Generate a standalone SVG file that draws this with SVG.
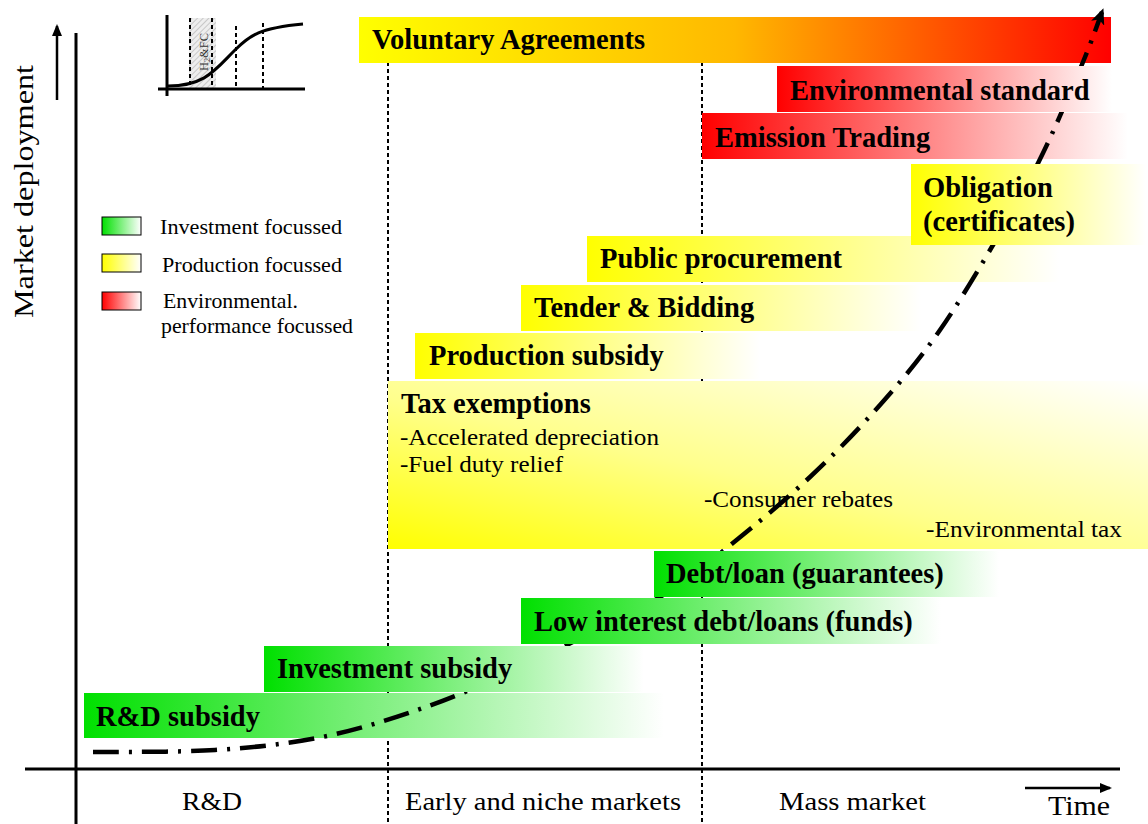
<svg xmlns="http://www.w3.org/2000/svg" width="1148" height="824" viewBox="0 0 1148 824">
<style>
.b{font-family:"Liberation Serif","Times New Roman",serif;font-weight:bold;font-size:28.5px;fill:#000}
.r{font-family:"Liberation Serif","Times New Roman",serif;font-size:24px;fill:#000}
.lg{font-family:"Liberation Serif","Times New Roman",serif;font-size:21px;fill:#000}
.ax{stroke:#000;stroke-width:3;fill:none}
.dot{stroke:#000;stroke-width:2;stroke-dasharray:4 3;fill:none}
.sw{stroke:#000;stroke-width:1}
</style>
<defs>
<linearGradient id="gG" x1="0" y1="0" x2="1" y2="0"><stop offset="0" stop-color="#00E000"/><stop offset="1" stop-color="#FFFFFF"/></linearGradient>
<linearGradient id="gY" x1="0" y1="0" x2="1" y2="0"><stop offset="0" stop-color="#FFFF00"/><stop offset="1" stop-color="#FFFFFF"/></linearGradient>
<linearGradient id="gR" x1="0" y1="0" x2="1" y2="0"><stop offset="0" stop-color="#FF0000"/><stop offset="1" stop-color="#FFFFFF"/></linearGradient>
<linearGradient id="gO" x1="0" y1="0" x2="1" y2="0"><stop offset="0" stop-color="#FFFF00"/><stop offset="0.5" stop-color="#FFB800"/><stop offset="1" stop-color="#FF0000"/></linearGradient>
<linearGradient id="gT" x1="0" y1="1" x2="1" y2="0"><stop offset="0" stop-color="#FFFF00"/><stop offset="0.45" stop-color="#FFFF8C"/><stop offset="1" stop-color="#FFFFFF"/></linearGradient>
<pattern id="hatch" width="4" height="4" patternUnits="userSpaceOnUse" patternTransform="rotate(45)"><rect width="4" height="4" fill="#eeeeee"/><line x1="0" y1="0" x2="0" y2="4" stroke="#bbbbbb" stroke-width="1.5"/></pattern>
<marker id="ah" markerWidth="12" markerHeight="10" refX="10" refY="5" orient="auto" markerUnits="userSpaceOnUse"><path d="M0,0 L12,5 L0,10 z" fill="#000"/></marker>
<marker id="ahc" markerWidth="16" markerHeight="14" refX="12" refY="7" orient="auto" markerUnits="userSpaceOnUse"><path d="M0,0 L16,7 L0,14 L4,7 z" fill="#000"/></marker>
</defs>
<rect width="1148" height="824" fill="#fff"/>

<g id="guides">
<line class="dot" x1="388" y1="62" x2="388" y2="824"/>
<line class="dot" x1="702" y1="62" x2="702" y2="824"/>
</g>

<g id="axes">
<line class="ax" x1="76" y1="33" x2="76" y2="824"/>
<line class="ax" x1="25" y1="769" x2="1120" y2="769"/>
<line x1="57" y1="100" x2="57" y2="26" stroke="#000" stroke-width="2.5" marker-end="url(#ah)"/>
<line x1="1025" y1="788" x2="1110" y2="788" stroke="#000" stroke-width="2.5" marker-end="url(#ah)"/>
<text class="r" style="font-size:28px" transform="translate(33,318) rotate(-90)" textLength="253" lengthAdjust="spacingAndGlyphs">Market deployment</text>
<text class="r" style="font-size:28px" x="1048" y="815" textLength="62" lengthAdjust="spacingAndGlyphs">Time</text>
<text class="r" style="font-size:25px" x="182" y="810" textLength="60" lengthAdjust="spacingAndGlyphs">R&amp;D</text>
<text class="r" style="font-size:25px" x="405" y="810" textLength="276" lengthAdjust="spacingAndGlyphs">Early and niche markets</text>
<text class="r" style="font-size:25px" x="779" y="810" textLength="147" lengthAdjust="spacingAndGlyphs">Mass market</text>
</g>

<g id="inset">
<rect x="189" y="18" width="27" height="71" fill="url(#hatch)"/>
<line class="ax" x1="167" y1="15" x2="167" y2="96"/>
<line class="ax" x1="158" y1="89" x2="305" y2="89"/>
<line class="dot" x1="190" y1="18" x2="190" y2="89"/>
<line class="dot" x1="212" y1="18" x2="212" y2="89"/>
<line class="dot" x1="236" y1="26" x2="236" y2="89"/>
<line class="dot" x1="263" y1="23" x2="263" y2="89"/>
<path d="M168,86 C205,86 215,70 235,50 C250,35 260,28 303,24" stroke="#000" stroke-width="3" fill="none"/>
<text transform="translate(208,71) rotate(-90)" font-family="Liberation Serif, serif" font-size="12" fill="#333" textLength="38" lengthAdjust="spacingAndGlyphs">H<tspan font-size="8" dy="2">2</tspan><tspan dy="-2">&amp;FC</tspan></text>
</g>

<g id="legend">
<rect class="sw" x="102" y="217" width="39" height="18" fill="url(#gG)"/>
<rect class="sw" x="102" y="254" width="39" height="18" fill="url(#gY)"/>
<rect class="sw" x="102" y="292" width="39" height="18" fill="url(#gR)"/>
<text class="lg" x="160" y="234" textLength="182" lengthAdjust="spacingAndGlyphs">Investment focussed</text>
<text class="lg" x="162" y="271.5" textLength="180" lengthAdjust="spacingAndGlyphs">Production focussed</text>
<text class="lg" x="163" y="308" textLength="135" lengthAdjust="spacingAndGlyphs">Environmental.</text>
<text class="lg" x="161" y="333" textLength="192" lengthAdjust="spacingAndGlyphs">performance focussed</text>
</g>

<g id="voluntary">
<rect x="359" y="17" width="752" height="46" fill="url(#gO)"/>
<text class="b" x="372" y="49">Voluntary Agreements</text>
</g>
<g id="emission">
<rect x="702" y="113" width="426" height="46" fill="url(#gR)"/>
<text class="b" x="715" y="147">Emission Trading</text>
</g>
<g id="procurement">
<rect x="587" y="236" width="472" height="46" fill="url(#gY)"/>
<text class="b" x="600" y="268">Public procurement</text>
</g>
<g id="tender">
<rect x="521" y="285" width="400" height="46" fill="url(#gY)"/>
<text class="b" x="534" y="317">Tender &amp; Bidding</text>
</g>
<g id="production">
<rect x="415" y="333" width="345" height="46" fill="url(#gY)"/>
<text class="b" x="429" y="365">Production subsidy</text>
</g>
<g id="tax">
<rect x="388" y="381" width="760" height="168" fill="url(#gT)"/>
<text class="b" x="401" y="413">Tax exemptions</text>
<text class="r" x="400" y="445" textLength="259" lengthAdjust="spacingAndGlyphs">-Accelerated depreciation</text>
<text class="r" x="400" y="472" textLength="163" lengthAdjust="spacingAndGlyphs">-Fuel duty relief</text>
<text class="r" x="704" y="506.5" textLength="189" lengthAdjust="spacingAndGlyphs">-Consumer rebates</text>
<text class="r" x="926" y="536.5" textLength="196" lengthAdjust="spacingAndGlyphs">-Environmental tax</text>
</g>
<g id="rdsubsidy">
<rect x="84" y="693" width="580" height="45" fill="url(#gG)"/>
<text class="b" x="96" y="726">R&amp;D subsidy</text>
</g>

<g id="connectors">
<path d="M93,752 C113.3,751.7 176.8,752.5 215,750 C253.2,747.5 287.3,744 322,737 C356.7,730 390,719.5 423,708 C456,696.5 490.5,681.3 520,668 C549.5,654.7 576.7,639.8 600,628 C623.3,616.2 638.7,610.5 660,597 C681.3,583.5 703,567 728,547 C753,527 784.7,500.7 810,477 C835.3,453.3 858.3,429.5 880,405 C901.7,380.5 920,358.7 940,330 C960,301.3 982.8,262.5 1000,233 C1017.2,203.5 1029.2,181.5 1043,153 C1056.8,124.5 1073.2,85.5 1083,62 C1092.8,38.5 1098.8,20.3 1102,12" fill="none" stroke="#000" stroke-width="4.5" stroke-dasharray="26 10 3 10" marker-end="url(#ahc)"/>
</g>

<g id="envstandard">
<rect x="777" y="66" width="335" height="46" fill="url(#gR)"/>
<text class="b" x="790" y="100">Environmental standard</text>
</g>
<g id="obligation">
<rect x="911" y="164" width="235" height="81" fill="url(#gY)"/>
<text class="b" x="923" y="197">Obligation</text>
<text class="b" x="923" y="231">(certificates)</text>
</g>
<g id="debt">
<rect x="654" y="551" width="345" height="46" fill="url(#gG)"/>
<text class="b" x="666" y="583">Debt/loan (guarantees)</text>
</g>
<g id="lowinterest">
<rect x="521" y="598" width="420" height="46" fill="url(#gG)"/>
<text class="b" x="534" y="630.5">Low interest debt/loans (funds)</text>
</g>
<g id="investment">
<rect x="264" y="646" width="380" height="46" fill="url(#gG)"/>
<text class="b" x="277" y="678">Investment subsidy</text>
</g>
</svg>
